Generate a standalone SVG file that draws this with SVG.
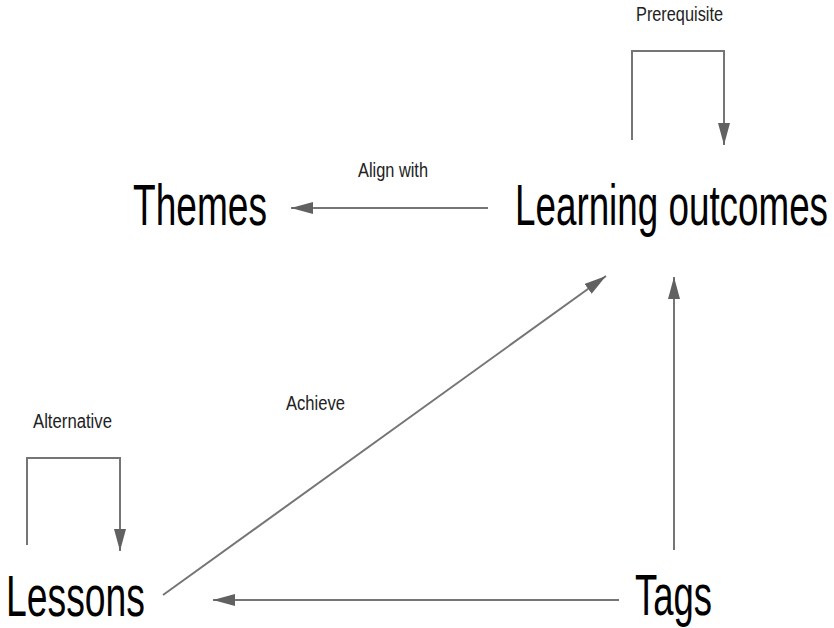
<svg xmlns="http://www.w3.org/2000/svg" width="834" height="628" viewBox="0 0 834 628">
<style>
.node{font-family:"Liberation Sans",Arial,sans-serif;font-size:57px;fill:#000}
.lbl{font-family:"Liberation Sans",Arial,sans-serif;font-size:20px;fill:#222}
.edge{fill:none;stroke:#757575;stroke-width:2}
</style>
<defs>
<marker id="ah" markerUnits="userSpaceOnUse" markerWidth="24" markerHeight="12" refX="22" refY="6" orient="auto">
<path d="M0,0 L22,6 L0,12 Z" fill="#616161"/>
</marker>
</defs>
<rect width="834" height="628" fill="#fff"/>
<g id="connectors">
<path class="edge" d="M632,140 L632,51 L724,51 L724,145" marker-end="url(#ah)"/>
<path class="edge" d="M488,208 L291,208" marker-end="url(#ah)"/>
<path class="edge" d="M27,545 L27,458 L120,458 L120,551" marker-end="url(#ah)"/>
<path class="edge" d="M163,595 L606,276" marker-end="url(#ah)"/>
<path class="edge" d="M674,550 L674,277" marker-end="url(#ah)"/>
<path class="edge" d="M619,600 L213,600" marker-end="url(#ah)"/>
</g>
<g id="labels">
<text class="lbl" x="636" y="21" textLength="87" lengthAdjust="spacingAndGlyphs">Prerequisite</text>
<text class="lbl" x="358" y="177" textLength="70" lengthAdjust="spacingAndGlyphs">Align with</text>
<text class="lbl" x="33" y="428" textLength="79" lengthAdjust="spacingAndGlyphs">Alternative</text>
<text class="lbl" x="286" y="410" textLength="59" lengthAdjust="spacingAndGlyphs">Achieve</text>
</g>
<g id="node-themes"><text class="node" x="133" y="225" textLength="134" lengthAdjust="spacingAndGlyphs">Themes</text></g>
<g id="node-learning-outcomes"><text class="node" x="515" y="225" textLength="313" lengthAdjust="spacingAndGlyphs">Learning outcomes</text></g>
<g id="node-lessons"><text class="node" x="6" y="616" textLength="139" lengthAdjust="spacingAndGlyphs">Lessons</text></g>
<g id="node-tags"><text class="node" x="635" y="615" textLength="77" lengthAdjust="spacingAndGlyphs">Tags</text></g>
</svg>
